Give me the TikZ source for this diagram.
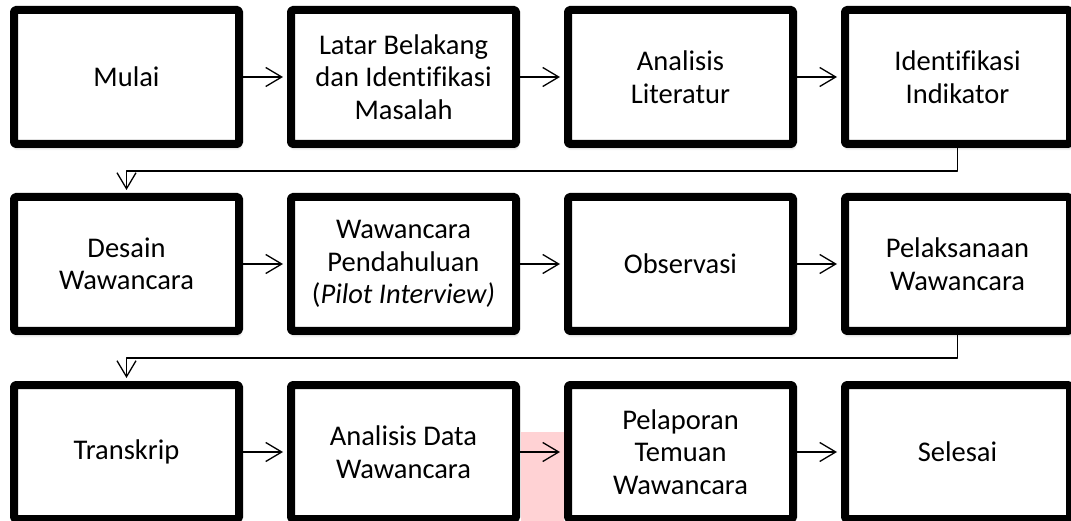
\documentclass[tikz,border=0pt]{standalone}
\usepackage{fontspec}
\setmainfont[Ligatures=NoCommon]{Carlito}
\usetikzlibrary{arrows.meta,shadows.blur}
\definecolor{pinkmark}{RGB}{255,210,212}
\begin{document}
\begin{tikzpicture}[x=1pt, y=-1pt, line join=round,
  box/.style={draw, line width=8pt, rounded corners=1.5pt, fill=white,
    minimum width=225pt, minimum height=134pt, align=center,
    font=\fontsize{28.5}{32.5}\selectfont,
    blur shadow={shadow xshift=1pt, shadow yshift=-3.5pt, shadow blur radius=3pt, shadow opacity=35}},
  link/.style={line width=1.3pt, shorten >=4pt, -{Straight Barb[length=16pt, width=19pt]}}]
  \useasboundingbox (0,0) rectangle (1071,521);
  % highlighted strip between the last boxes
  \fill[pinkmark] (521,432) rectangle (564,521);
  % row 1
  \node[box] (m1) at (126.5,77) {Mulai};
  \node[box] (m2) at (403.5,77) {Latar Belakang\\dan Identifikasi\\Masalah};
  \node[box] (m3) at (680.5,77) {Analisis\\Literatur};
  \node[box] (m4) at (957.5,77) {Identifikasi\\Indikator};
  % row 2
  \node[box] (m5) at (126.5,264) {Desain\\Wawancara};
  \node[box] (m6) at (403.5,264) {Wawancara\\Pendahuluan\\(\textit{Pilot Interview)}};
  \node[box] (m7) at (680.5,264) {Observasi};
  \node[box] (m8) at (957.5,264) {Pelaksanaan\\Wawancara};
  % row 3
  \node[box] (m9) at (126.5,452) {Transkrip};
  \node[box] (m10) at (403.5,452) {Analisis Data\\Wawancara};
  \node[box] (m11) at (680.5,452) {Pelaporan\\Temuan\\Wawancara};
  \node[box] (m12) at (957.5,452) {Selesai};
  % arrows along each row
  \foreach \a/\b in {m1/m2, m2/m3, m3/m4, m5/m6, m6/m7, m7/m8, m9/m10, m10/m11, m11/m12}
    \draw[link] (\a.east) -- (\b.west);
  % return lines to the next row
  \draw[link, shorten >=3pt] (m4.south) -- ++(0,23) -| (m5.north);
  \draw[link, shorten >=3pt] (m8.south) -- ++(0,23) -| (m9.north);
\end{tikzpicture}
\end{document}
